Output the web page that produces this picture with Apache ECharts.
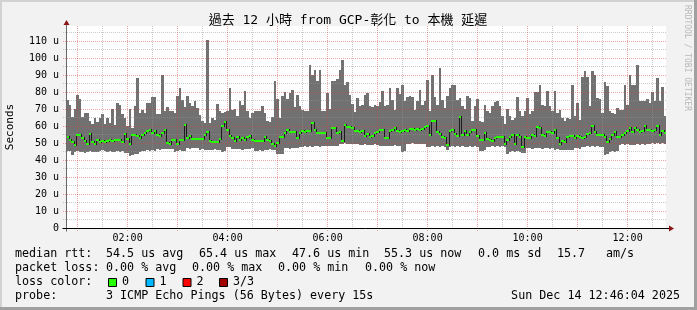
<!DOCTYPE html>
<html><head><meta charset="utf-8">
<script src="https://cdn.jsdelivr.net/npm/echarts@6/dist/echarts.min.js"></script>
<style>html,body{margin:0;padding:0;background:#f2f2f2}#c{width:697px;height:310px}</style>
</head><body><div id="c"></div>
<script>
// ---------------- data ----------------
const startClock = '00:46:04';          // left edge of the graph
const spanMinutes = 720;                 // 12 hours
const stepMinutes = 3;                   // one consolidated row = 180 s

const smokeMax = [
 75.6,72.3,65.4,70.3,78.6,76,65.6,68,68,63.2,61,65,62.4,64.8,67,61,65,62,70,60.5,
 73.6,72.7,67,65,60,70,59,71.7,88.4,67.7,69.7,67.7,73.6,73.6,77,77,67,67.4,90,68.7,
 71,69,68.7,67.7,77.6,82.5,75.6,71,77.6,73.6,71.7,75,70.7,66.8,63.2,61.9,111,62,64.8,63.8,
 73.3,68.7,67.7,68.3,68.7,82.5,69.7,70.3,65.8,74.6,72.7,80.5,68.7,64.8,67.7,69,68.7,69,71.7,67.7,
 63.2,62.4,65.2,86.8,76.2,64.8,77.6,80.1,76.2,79.5,81.5,71.1,78.6,71.7,69.7,68.7,69,96.2,90,93.3,
 86.4,93.3,68.7,68.7,79.5,70.3,86.4,86.4,88,93,99,84,86,78.2,73,68.3,76.6,71.7,72.7,78.6,
 79.5,71.7,71.1,72.7,71.7,74.2,81,71.7,72.7,82.5,75.6,69.7,82.5,79,84.5,74.6,77,77.6,77,69.7,
 74.6,81.5,72.7,74.6,87.4,68.7,90.3,77,72.7,94.3,75.6,70.7,77.6,82.5,84.5,84,75.6,76.6,71.7,70.3,
 77.6,76.6,63.2,71.7,76.2,62.8,62.4,72.7,68.7,67.7,71.7,74.2,74.6,71.7,65.8,61.2,70.3,65.8,63.8,64.8,
 77,68.7,65.8,69,76.6,67.2,68.7,80.1,80.1,84,72.7,71.7,80.5,71.7,68.7,80.5,67.7,69.7,64.8,62.8,
 64.8,64.4,84,65.8,73.6,63.8,88.8,92.3,88.8,71.7,92.7,90,76.6,76.2,67.7,86,83.5,68.7,67.7,67.2,
 70.7,69.7,69.3,84,72.7,90,84.5,84.5,96.2,75,74.6,75,76.2,73.6,80.1,74.6,88.4,74.6,82.9,65.8
];
const smokeMin = [
 45.1,45.3,43.1,45,45.4,44.8,44.5,44.3,44.9,45.2,44.7,45,44.6,45.5,45.8,45.3,44.8,45.1,44.6,45,
 45.3,44.9,45.2,44.1,44.3,42.5,42.8,43.5,43.8,45,45.2,45.5,45.8,45.4,45.7,45.3,46.5,46.2,46.8,46.4,
 46.6,46.3,46.7,44.5,45.5,45.8,45.3,45.6,47,46.8,47.2,46.9,47.1,46,46.3,45.8,46.2,45.9,46.1,46.4,
 45.7,46,45,45.2,48,47.8,46.5,46.8,46.3,46.6,46.2,46.7,46.4,46.5,46.9,45.5,45.2,45.7,45.4,45.8,
 46,46.3,45.8,46.1,43.5,43.8,43.3,47,47.3,46.8,47.2,46.9,47.1,48,47.7,48.2,47.9,48.1,47.8,48.3,
 48.3,48,48.5,48.2,48.4,48.1,48.6,48.3,48.5,49.6,49.3,49.8,49.5,49.7,49.4,49.6,49.2,49,48.8,49.2,
 48.9,49.1,48.7,49.3,49,48.4,48.1,48.6,48.3,48.5,48.2,48.7,48.4,48.6,45,45.3,49.6,49.3,49.8,49.5,
 49.7,49.4,49.6,49.2,48,47.8,48.2,47.9,48.1,47.7,48.3,48,45.7,48,48.3,47.8,48.1,47.9,48.2,47.7,
 48,48.3,47.9,48.1,48,45.5,45.2,45.7,48,47.8,48.2,47.9,48.1,47.7,48.3,48,43.5,45,45.3,44.8,
 45.2,44.9,44,44.2,47,47.3,46.8,47.2,46.9,47.1,46.7,47.4,47,46.8,47.2,46,46.3,45.8,46.2,45.9,
 46.1,45.7,46.2,47,47.2,46.8,48,47.8,48.2,47.9,48.1,47.7,48.3,48,47.9,43,43.3,45,45.3,44.8,
 45.2,49,49.3,48.8,49.2,48.9,49.1,48.7,49.4,49,49.2,48.8,49.3,49.5,49.8,49.6,50,49.7,49.9,49.5
];
const medianRtt = [
 53.4,51.6,50.4,49,55,54.5,53,51,49.6,55.5,50.4,49.6,51.6,50.4,51.2,50.4,51.4,52,51.2,51.6,
 51.6,51.6,50.4,55.5,52.4,49.6,54.5,55,54.3,53,55,55.9,56.9,57.9,55.9,56.9,54.5,54.3,55.9,57.5,
 50,49.6,51.6,52,49.6,52,52,60.8,53,54,52.4,52.4,52.4,52.4,52.4,55,56.3,51,50.4,50.4,
 50.4,52.4,59.8,62.2,57.9,54.3,53,51.2,53.5,52,53,52,53.5,54.3,51.6,51,51,51,51,53.5,
 51.6,51,49.6,48.4,50,53.9,53.5,55.9,57.5,56.3,56.3,56.3,53,55.9,56.9,56.3,56.9,56.9,61.8,57.9,
 55.9,55.9,55.9,55.9,53,53,58.8,58.8,55.9,56.3,51,60.8,59.4,59.4,
 58.8,56.9,56.9,56.3,56.9,54.3,55.5,53.5,54.3,55.9,56.3,57.5,57.9,53,53,56.9,57.9,58.8,56.9,56.3,
 56.9,57.5,56.9,58.3,58.3,57.9,58.3,57.9,58.3,59.4,59.8,55,62.8,62.8,56.3,55.5,53.9,53,49,56.9,
 57.9,55.5,54.3,65.4,55,56.9,55,56.3,57.9,57.9,54.3,52,51.6,55.9,52.4,51.6,51,53,53.5,53.5,
 53.5,49.6,51.6,53.5,55,49.6,55,53.9,47.6,53.9,53,53,55,54.3,59.4,58.8,55,54.3,56.3,56.3,
 55.9,57.5,53,49.6,51,50.4,53.9,54.3,54.3,53,54.3,53.9,53,53.5,55.5,55.9,59.8,56.3,55,55,
 55,53.5,50.4,52.4,55,56.3,53.5,53.9,55,55.9,56.9,58.8,56.3,58.8,57.9,56.3,56.9,59.8,57.9,57.9,
 56.9,57.9,60.2,55,56.9,55.9
];
const majorTimes = ['01:00','02:00','03:00','04:00','05:00','06:00','07:00','08:00','09:00','10:00','11:00','12:00'];
const minorTimes = ['01:30','02:30','03:30','04:30','05:30','06:30','07:30','08:30','09:30','10:30','11:30','12:30'];
const xLabelTimes = ['02:00','04:00','06:00','08:00','10:00','12:00'];
const yMajor = [10,20,30,40,50,60,70,80,90,100,110];
const yMinor = [5,15,25,35,45,55,65,75,85,95,105,115];
const yLabelValues = [0,10,20,30,40,50,60,70,80,90,100,110];
const yMax = 119;

const titleText = '過去 12 小時 from GCP-彰化 to 本機 延遲';
const lossColors = ['#26ff00','#00b8ff','#ff0000','#a00000'];
const lossLabels = ['0','1','2','3/3'];

// ---------------- helpers ----------------
function clock(s){const p=s.split(':').map(Number);return p[0]*60+p[1]+(p[2]||0)/60;}
const xMin = clock(startClock), xMax = xMin + spanMinutes;
function fmt(v){const h=Math.floor(v/60),m=Math.round(v%60);return String(h).padStart(2,'0')+':'+String(m).padStart(2,'0');}
const MONO = "'DejaVu Sans Mono', monospace";
const crisp = v => Math.round(v) + 0.5;

const chart = echarts.init(document.getElementById('c'), null, {renderer:'canvas', width:697, height:310});

const smokeData = smokeMax.map((mx,i)=>[xMin + i*stepMinutes, smokeMin[i], mx]);
const medData = medianRtt.map((m,i)=>[xMin + i*stepMinutes, m, i>0?medianRtt[i-1]:m]);
const vGridData = majorTimes.map(s=>[clock(s),0,1]).concat(minorTimes.map(s=>[clock(s),0,0]));
const hGridData = yMajor.map(v=>[xMin,v,1]).concat(yMinor.map(v=>[xMin,v,0]));

const MAJ = 'rgba(215,60,60,0.45)';
const MIN = 'rgba(150,150,150,0.5)';

// legend rows
const rowY = [254, 268, 282, 296];
const legend = [
 [16,rowY[0],'median rtt:'],[107,rowY[0],'54.5 us avg'],[200,rowY[0],'65.4 us max'],[293,rowY[0],'47.6 us min'],
 [385,rowY[0],'55.3 us now'],[479,rowY[0],'0.0 ms sd'],[558,rowY[0],'15.7'],[607,rowY[0],'am/s'],
 [16,rowY[1],'packet loss:'],[107,rowY[1],'0.00 % avg'],[193,rowY[1],'0.00 % max'],[279,rowY[1],'0.00 % min'],[366,rowY[1],'0.00 % now'],
 [16,rowY[2],'loss color:'],
 [16,rowY[3],'probe:'],[107,rowY[3],'3 ICMP Echo Pings (56 Bytes) every 15s']
];
const boxX = [108,145.5,182.5,219];
const graphics = [
  {type:'rect', shape:{x:0,y:0,width:697,height:2}, style:{fill:'#d2d2d2'}, silent:true},
  {type:'rect', shape:{x:0,y:0,width:2,height:310}, style:{fill:'#d2d2d2'}, silent:true},
  {type:'rect', shape:{x:694,y:0,width:3,height:310}, style:{fill:'#a0a0a0'}, silent:true},
  {type:'rect', shape:{x:0,y:307,width:697,height:3}, style:{fill:'#a0a0a0'}, silent:true},
  {type:'text', x:348, y:21, style:{text:titleText, font:"13px 'DejaVu Sans Mono','Noto Sans CJK TC',sans-serif", fill:'#000', textAlign:'center', textVerticalAlign:'middle'}},
  {type:'text', x:10, y:127, rotation:Math.PI/2, style:{text:'Seconds', font:'11px '+MONO, fill:'#000', textAlign:'center', textVerticalAlign:'middle'}},
  {type:'text', x:687, y:58, rotation:-Math.PI/2, style:{text:'RRDTOOL / TOBI OETIKER', font:'8px '+MONO, fill:'#b8b8b8', textAlign:'center', textVerticalAlign:'middle'}},
  {type:'text', x:680, y:rowY[3], style:{text:'Sun Dec 14 12:46:04 2025', font:'11.7px '+MONO, fill:'#000', textAlign:'right', textVerticalAlign:'middle'}}
];
legend.forEach(([x,y,t])=>graphics.push({type:'text', x:x-1, y:y, style:{text:t, font:'11.7px '+MONO, fill:'#000', textAlign:'left', textVerticalAlign:'middle'}}));
lossColors.forEach((c,i)=>{
  graphics.push({type:'rect', shape:{x:boxX[i]+0.5,y:278.5,width:8,height:8}, style:{fill:c, stroke:'#000', lineWidth:1}});
  graphics.push({type:'text', x:boxX[i]+14, y:rowY[2], style:{text:lossLabels[i], font:'11.7px '+MONO, fill:'#000', textAlign:'left', textVerticalAlign:'middle'}});
});

chart.setOption({
  animation:false,
  backgroundColor:'#f2f2f2',
  grid:{left:66, top:26, width:600, height:202, show:true, backgroundColor:'#ffffff', borderWidth:0},
  xAxis:{type:'value', min:xMin, max:xMax,
    axisLine:{show:false}, axisTick:{show:false}, splitLine:{show:false},
    axisLabel:{customValues:xLabelTimes.map(clock), formatter:fmt, fontFamily:MONO, fontSize:10, color:'#000', margin:5}},
  yAxis:{type:'value', min:0, max:yMax,
    axisLine:{show:false}, axisTick:{show:false}, splitLine:{show:false},
    axisLabel:{customValues:yLabelValues, formatter:v=>v===0?'0':v+' u', fontFamily:MONO, fontSize:10, color:'#000', margin:7}},
  graphic:graphics,
  series:[
    {type:'custom', name:'smoke', z:2, silent:true, clip:true, data:smokeData, encode:{x:0,y:[1,2]},
     renderItem(params, api){
       const t=api.value(0);
       const a=api.coord([t, api.value(1)]), b=api.coord([t+stepMinutes, api.value(2)]);
       const x0=Math.round(a[0]), x1=Math.round(b[0]);
       const y0=Math.round(a[1]), y1=Math.round(b[1]);
       return {type:'rect', shape:{x:x0,y:y1,width:x1-x0,height:y0-y1}, style:{fill:'#717171'}};
     }},
    {type:'custom', name:'hgrid', z:3, silent:true, clip:false, data:hGridData, encode:{x:0,y:1},
     renderItem(params, api){
       const y=crisp(api.coord([xMin, api.value(1)])[1]-0.5);
       const xl=api.coord([xMin,0])[0], xr=api.coord([xMax,0])[0];
       return {type:'line', shape:{x1:xl-3, y1:y, x2:xr+1, y2:y}, style:{stroke:api.value(2)?MAJ:MIN, lineWidth:1, lineDash:[1,1]}};
     }},
    {type:'custom', name:'vgrid', z:3, silent:true, clip:false, data:vGridData, encode:{x:0,y:1},
     renderItem(params, api){
       const x=crisp(api.coord([api.value(0),0])[0]-0.5);
       const yb=api.coord([xMin,0])[1], yt=api.coord([xMin,yMax])[1];
       const maj=api.value(2);
       return {type:'line', shape:{x1:x, y1:yt, x2:x, y2:yb+(maj?3:0)}, style:{stroke:maj?MAJ:MIN, lineWidth:1, lineDash:[1,1]}};
     }},
    {type:'custom', name:'median', z:4, silent:true, clip:true, data:medData, encode:{x:0,y:[1,2]},
     renderItem(params, api){
       const t=api.value(0);
       const a=api.coord([t, api.value(1)]), b=api.coord([t+stepMinutes, api.value(1)]);
       const p=api.coord([t, api.value(2)]);
       const x0=Math.round(a[0]), x1=Math.round(b[0]);
       const yc=Math.round(a[1]), yp=Math.round(p[1]);
       return {type:'group', children:[
         {type:'line', shape:{x1:x0+0.5, y1:Math.min(yc,yp)-1, x2:x0+0.5, y2:Math.max(yc,yp)+1}, style:{stroke:'#1c1c1c', lineWidth:1}},
         {type:'rect', shape:{x:x0, y:yc-1, width:x1-x0, height:2}, style:{fill:lossColors[0]}}
       ]};
     }},
    {type:'custom', name:'axes', z:5, silent:true, clip:false, data:[[xMin,0]], encode:{x:0,y:1},
     renderItem(params, api){
       const o=api.coord([xMin,0]), e=api.coord([xMax,yMax]);
       const x0=crisp(o[0]-0.5), y0=crisp(o[1]-0.5);
       return {type:'group', children:[
         {type:'line', shape:{x1:x0, y1:y0+3, x2:x0, y2:e[1]-3}, style:{stroke:'#6a6a6a', lineWidth:1}},
         {type:'line', shape:{x1:x0-4, y1:y0, x2:e[0]+3, y2:y0}, style:{stroke:'#000', lineWidth:1}},
         {type:'polygon', shape:{points:[[x0-3,e[1]-1],[x0+3,e[1]-1],[x0,e[1]-6]]}, style:{fill:'#8b1414'}},
         {type:'polygon', shape:{points:[[e[0]+3,y0-3],[e[0]+3,y0+3],[e[0]+8,y0]]}, style:{fill:'#8b1414'}}
       ]};
     }}
  ]
});
</script>
</body></html>
